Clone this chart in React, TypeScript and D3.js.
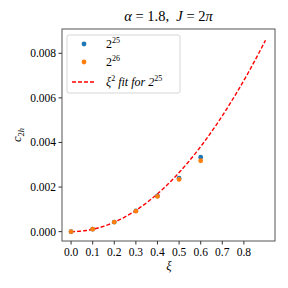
import React from "react";
import * as d3 from "d3";

const xi = [0.0, 0.1, 0.2, 0.3, 0.4, 0.5, 0.6];
const c25 = [0.0, 0.00011, 0.00043, 0.00093, 0.0016, 0.0024, 0.00334];
const c26 = [0.0, 0.00011, 0.00043, 0.00092, 0.00158, 0.00234, 0.00318];
const fitCoef = 0.0106;
const fitRange = [0.0, 0.9];
const xTicks = [0, 0.1, 0.2, 0.3, 0.4, 0.5, 0.6, 0.7, 0.8];
const yTicks = [0, 0.002, 0.004, 0.006, 0.008];

const W = 288;
const H = 288;
const m = { left: 62, right: 13, top: 29, bottom: 47 };
const font = "'Liberation Serif', serif";
const blue = "#1f77b4";
const orange = "#ff7f0e";

const App = () => {
  const x = d3.scaleLinear().domain([-0.042, 0.944]).range([m.left, W - m.right]);
  const y = d3.scaleLinear().domain([-0.00042, 0.00909]).range([H - m.bottom, m.top]);

  const fitXs = d3.range(fitRange[0], fitRange[1] + 1e-9, 0.01);
  const fitLine = d3
    .line<number>()
    .x((d) => x(d))
    .y((d) => y(fitCoef * d * d));

  const bottom = H - m.bottom;

  return (
    <svg width={W} height={H} style={{ position: "absolute", left: 0, top: 0 }} fontFamily={font}>
      <rect width={W} height={H} fill="#fff" />
      <text x={(m.left + W - m.right) / 2} y={21} textAnchor="middle" fontSize={14.5} style={{ whiteSpace: "pre" }}>
        <tspan fontStyle="italic">α</tspan>{" = 1.8,  "}<tspan fontStyle="italic">J</tspan>{" = 2"}<tspan fontStyle="italic">π</tspan>
      </text>

      <path d={fitLine(fitXs) || ""} fill="none" stroke="red" strokeWidth={1.4} strokeDasharray="4,2" />
      {xi.map((d, i) => (
        <circle key={"b" + i} cx={x(d)} cy={y(c25[i])} r={2.4} fill={blue} />
      ))}
      {xi.map((d, i) => (
        <circle key={"o" + i} cx={x(d)} cy={y(c26[i])} r={2.4} fill={orange} />
      ))}

      <rect x={m.left} y={m.top} width={W - m.left - m.right} height={bottom - m.top} fill="none" stroke="#555" strokeWidth={1} />

      {xTicks.map((t) => (
        <g key={"x" + t}>
          <line x1={x(t)} x2={x(t)} y1={bottom} y2={bottom + 3.5} stroke="#333" />
          <text x={x(t)} y={bottom + 14.5} textAnchor="middle" fontSize={11.5}>
            {t.toFixed(1)}
          </text>
        </g>
      ))}
      {yTicks.map((t) => (
        <g key={"y" + t}>
          <line x1={m.left - 3.5} x2={m.left} y1={y(t)} y2={y(t)} stroke="#333" />
          <text x={m.left - 6} y={y(t) + 4} textAnchor="end" fontSize={11.5}>
            {t.toFixed(3)}
          </text>
        </g>
      ))}

      <text x={169} y={270} textAnchor="middle" fontSize={12.5} fontStyle="italic">ξ</text>
      <text transform={`translate(21,${(m.top + bottom) / 2}) rotate(-90)`} textAnchor="middle" fontSize={12.5}>
        <tspan fontStyle="italic">c</tspan>
        <tspan fontSize={8.5} dy={3}>2<tspan fontStyle="italic">h</tspan></tspan>
      </text>

      <g>
        <rect x={67} y={35} width={113} height={58} rx={2} fill="#fff" fillOpacity={0.8} stroke="#ccc" strokeWidth={0.8} />
        <circle cx={84} cy={44} r={2.4} fill={blue} />
        <text x={106} y={48} fontSize={12}>
          2<tspan fontSize={8} dy={-5}>25</tspan>
        </text>
        <circle cx={84} cy={62} r={2.4} fill={orange} />
        <text x={106} y={66} fontSize={12}>
          2<tspan fontSize={8} dy={-5}>26</tspan>
        </text>
        <line x1={72} x2={95} y1={82} y2={82} stroke="red" strokeWidth={1.4} strokeDasharray="4,2" />
        <text x={106} y={86} fontSize={12} fontStyle="italic" style={{ whiteSpace: "pre" }}>
          ξ<tspan fontSize={8} dy={-5} fontStyle="normal">2</tspan>
          <tspan dy={5}>{" fit for 2"}</tspan>
          <tspan fontSize={8} dy={-5} fontStyle="normal">25</tspan>
        </text>
      </g>
    </svg>
  );
};

export default App;
